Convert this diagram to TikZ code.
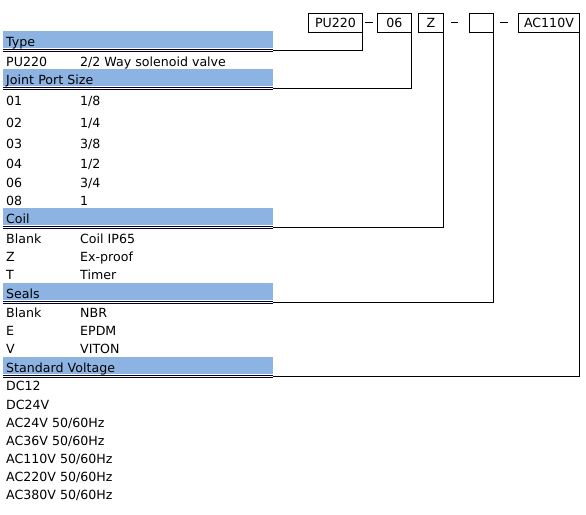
\documentclass[tikz,border=0pt]{standalone}
\usepackage{fontspec}
\setmainfont{DejaVu Sans}
\definecolor{barblue}{HTML}{8DB3E2}
\begin{document}
\begin{tikzpicture}[x=1pt,y=-1pt,font=\fontsize{12.6}{14}\selectfont,
  bar/.style={fill=barblue,draw=none,anchor=north west,minimum width=270pt,minimum height=17pt,text width=264pt,text height=14pt,text depth=0pt,inner xsep=3pt,inner ysep=0pt,align=left},
  txt/.style={anchor=base west,inner sep=0pt},
  codebox/.style={draw,line width=0.9pt,anchor=north west,minimum height=19pt,inner sep=0pt},
  conn/.style={line width=1pt},
  dbl/.style={line width=0.8pt,draw=black!85!blue}]
\useasboundingbox (0,0) rectangle (586,514);
% code boxes
\node[codebox,minimum width=54pt] (b1) at (308,13) {PU220};
\node[codebox,minimum width=34pt] (b2) at (377,13) {06};
\node[codebox,minimum width=25pt] (b3) at (418,13) {Z};
\node[codebox,minimum width=24pt] (b4) at (469,13) {};
\node[codebox,minimum width=61pt] (b5) at (518,13) {AC110V};
\coordinate (d1a) at (365,22); \coordinate (d1b) at (373,22);
\coordinate (d2a) at (451,22); \coordinate (d2b) at (458,22);
\coordinate (d3a) at (500,22); \coordinate (d3b) at (508,22);
\draw[conn] (d1a) -- (d1b);
\draw[conn] (d2a) -- (d2b);
\draw[conn] (d3a) -- (d3b);
% header bars
\node[bar] (h1) at (3,31) {Type};
\node[bar] (h2) at (3,69) {Joint Port Size};
\node[bar] (h3) at (3,208) {Coil};
\node[bar] (h4) at (3,283) {Seals};
\node[bar] (h5) at (3,357) {Standard Voltage};
\foreach \h in {h1,h2,h3,h4,h5}{
  \draw[dbl] ([yshift=-1pt]\h.south west) -- ([yshift=-1pt]\h.south east);
  \draw[dbl] ([yshift=-3pt]\h.south west) -- ([yshift=-3pt]\h.south east);
}
% connectors
\draw[conn] ([yshift=-2pt]h1.south east) -| (b1.south east);
\draw[conn] ([yshift=-2pt]h2.south east) -| (b2.south east);
\draw[conn] ([yshift=-2pt]h3.south east) -| (b3.south east);
\draw[conn] ([yshift=-2pt]h4.south east) -| (b4.south east);
\draw[conn] ([yshift=-2pt]h5.south east) -| (b5.south east);
% rows
\node[txt] (r1a) at (6,66) {PU220}; \node[txt] (r1b) at (80,66) {2/2 Way solenoid valve};
\node[txt] (r2a) at (6,105) {01}; \node[txt] (r2b) at (80,105) {1/8};
\node[txt] (r3a) at (6,127) {02}; \node[txt] (r3b) at (80,127) {1/4};
\node[txt] (r4a) at (6,148) {03}; \node[txt] (r4b) at (80,148) {3/8};
\node[txt] (r5a) at (6,168) {04}; \node[txt] (r5b) at (80,168) {1/2};
\node[txt] (r6a) at (6,187) {06}; \node[txt] (r6b) at (80,187) {3/4};
\node[txt] (r7a) at (6,205) {08}; \node[txt] (r7b) at (80,205) {1};
\node[txt] (c1a) at (6,243) {Blank}; \node[txt] (c1b) at (80,243) {Coil IP65};
\node[txt] (c2a) at (6,261) {Z}; \node[txt] (c2b) at (80,261) {Ex-proof};
\node[txt] (c3a) at (6,279) {T}; \node[txt] (c3b) at (80,279) {Timer};
\node[txt] (s1a) at (6,317) {Blank}; \node[txt] (s1b) at (80,317) {NBR};
\node[txt] (s2a) at (6,335) {E}; \node[txt] (s2b) at (80,335) {EPDM};
\node[txt] (s3a) at (6,353) {V}; \node[txt] (s3b) at (80,353) {VITON};
\node[txt] (v1) at (6,390) {DC12};
\node[txt] (v2) at (6,409) {DC24V};
\node[txt] (v3) at (6,427) {AC24V 50/60Hz};
\node[txt] (v4) at (6,445) {AC36V 50/60Hz};
\node[txt] (v5) at (6,463) {AC110V 50/60Hz};
\node[txt] (v6) at (6,481) {AC220V 50/60Hz};
\node[txt] (v7) at (6,499) {AC380V 50/60Hz};
\end{tikzpicture}
\end{document}
